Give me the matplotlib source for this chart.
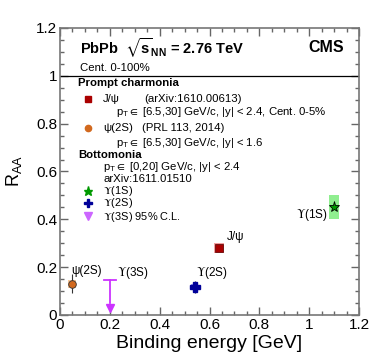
import matplotlib
matplotlib.use("Agg")
import matplotlib.pyplot as plt
from matplotlib.ticker import MultipleLocator, FormatStrFormatter
from matplotlib.patches import Rectangle

plt.rcParams['font.family'] = ['Liberation Sans', 'DejaVu Sans']
plt.rcParams['mathtext.fontset'] = 'custom'
plt.rcParams['mathtext.rm'] = 'Liberation Sans'
plt.rcParams['mathtext.it'] = 'Liberation Sans'
plt.rcParams['mathtext.bf'] = 'Liberation Sans:bold'
plt.rcParams['mathtext.fallback'] = 'stixsans'

# measured points (binding energy [GeV], R_AA)
states = ["ψ(2S)", "$\\Upsilon$(3S)", "$\\Upsilon$(2S)", "J/ψ", "$\\Upsilon$(1S)"]
binding = [0.05, 0.20, 0.54, 0.64, 1.10]
raa = [0.13, 0.145, 0.117, 0.28, 0.452]
stat_err = [0.04, 0.0, 0.025, 0.008, 0.01]
syst_err = [0.018, 0.0, 0.012, 0.02, 0.05]
box_width = [0.032, 0.0, 0.03, 0.04, 0.04]
ups3s_limit_low = 0.03

marker_colors = ["#d2691e", "#cc33ff", "#000099", "#aa0000", "#009900"]
box_colors = ["#f8c89a", "none", "#a0a0ff", "#f4a0a0", "#90ee90"]

W, H = 374, 359
fig = plt.figure(figsize=(W / 100, H / 100), dpi=100)
ax = fig.add_axes([60 / W, 1 - 315 / H, 299 / W, 287 / H])
ax.set_xlim(0, 1.2)
ax.set_ylim(0, 1.2)


def px(x, y):
    return x / W, 1 - y / H


# syst boxes
for i in range(len(states)):
    if box_width[i] > 0:
        ax.add_patch(Rectangle((binding[i] - box_width[i] / 2, raa[i] - syst_err[i]),
                               box_width[i], 2 * syst_err[i],
                               facecolor=box_colors[i], edgecolor="none", zorder=2))

# psi(2S)
ax.errorbar(binding[0], raa[0], yerr=stat_err[0], fmt="o", ms=5.5, color=marker_colors[0],
            mec="#333333", mew=0.6, ecolor="#333333", elinewidth=0.8, capsize=0, zorder=3)
# Upsilon(2S)
ax.errorbar(binding[2], raa[2], yerr=stat_err[2], fmt="P", ms=7, color=marker_colors[2],
            mec=marker_colors[2], ecolor="#333333", elinewidth=0.8, capsize=0, zorder=3)
# J/psi
ax.errorbar(binding[3], raa[3], yerr=stat_err[3], fmt="s", ms=5.5, color=marker_colors[3],
            mec="#550000", mew=0.5, ecolor="#333333", elinewidth=0.8, capsize=0, zorder=3)
# Upsilon(1S)
ax.errorbar(binding[4], raa[4], yerr=stat_err[4], fmt="*", ms=8, color=marker_colors[4],
            mec="#000000", mew=0.6, ecolor="#333333", elinewidth=0.8, capsize=0, zorder=3)
# Upsilon(3S) upper limit
ax.plot([binding[1], binding[1]], [raa[1], ups3s_limit_low + 0.02], color=marker_colors[1], lw=1.3, zorder=3)
ax.plot([binding[1] - 0.024, binding[1] + 0.024], [raa[1], raa[1]], color=marker_colors[1], lw=1.3, zorder=3)
ax.plot(binding[1], ups3s_limit_low, marker="v", ms=6, color=marker_colors[1], zorder=3)

ax.axhline(1.0, color="black", lw=0.9)

# point labels
lab = dict(fontsize=8.5, va="center", math_fontfamily="stix")
ax.text(binding[0] - 0.005, raa[0] + 0.052, states[0], ha="left", **lab)
ax.text(binding[1] + 0.03, raa[1] + 0.03, states[1], ha="left", **lab)
ax.text(binding[2] + 0.005, raa[2] + 0.06, states[2], ha="left", **lab)
ax.text(binding[3] + 0.03, raa[3] + 0.047, states[3], ha="left", **lab)
ax.text(binding[4] - 0.025, raa[4] - 0.035, states[4], ha="right", **lab)

ax.xaxis.set_major_locator(MultipleLocator(0.2))
ax.xaxis.set_minor_locator(MultipleLocator(0.05))
ax.yaxis.set_major_locator(MultipleLocator(0.2))
ax.yaxis.set_minor_locator(MultipleLocator(0.05))
ax.xaxis.set_major_formatter(FormatStrFormatter("%g"))
ax.yaxis.set_major_formatter(FormatStrFormatter("%g"))
ax.tick_params(which="both", direction="in", top=True, right=True, color="#666666")
ax.tick_params(which="major", length=6, width=1.0, labelsize=11, pad=2)
ax.tick_params(which="minor", length=3.2, width=1.0)
for s in ax.spines.values():
    s.set_color("#777777")
    s.set_linewidth(1.2)

ax.set_xlabel("Binding energy [GeV]", fontsize=14, labelpad=2)
ax.set_ylabel("R$_{\\mathrm{AA}}$", fontsize=13)
ax.yaxis.set_label_coords(-0.12, 0.50)

# header
fig.text(*px(80, 48), "PbPb  $\\sqrt{\\mathbf{s}}_{\\mathbf{NN}}$ = 2.76 TeV", fontsize=10.5,
         fontweight="bold", ha="left", va="center")
fig.text(*px(344, 48), "CMS", fontsize=11.5, fontweight="bold", ha="right", va="center")
fig.text(*px(80, 68), "Cent. 0-100%", fontsize=8.2, ha="left", va="center")

# legend block
fs = 8.2
fig.text(*px(78, 83), "Prompt charmonia", fontsize=fs, fontweight="bold", ha="left", va="center")
fig.text(*px(103, 99), "J/ψ", fontsize=fs, ha="left", va="center")
fig.text(*px(144, 99), "(arXiv:1610.00613)", fontsize=fs, ha="left", va="center")
fig.text(*px(116, 112), "p$_{\\mathrm{T}}\\in$ [6.5,30] GeV/c, |y| < 2.4, Cent. 0-5%", fontsize=fs,
         ha="left", va="center")
fig.text(*px(103, 128), "ψ(2S)", fontsize=fs, ha="left", va="center")
fig.text(*px(142, 128), "(PRL 113, 2014)", fontsize=fs, ha="left", va="center")
fig.text(*px(116, 143), "p$_{\\mathrm{T}}\\in$ [6.5,30] GeV/c, |y| < 1.6", fontsize=fs,
         ha="left", va="center")
fig.text(*px(78, 155), "Bottomonia", fontsize=fs, fontweight="bold", ha="left", va="center")
fig.text(*px(103, 167), "p$_{\\mathrm{T}}\\in$ [0,20] GeV/c, |y| < 2.4", fontsize=fs,
         ha="left", va="center")
fig.text(*px(103, 179), "arXiv:1611.01510", fontsize=fs, ha="left", va="center")
fig.text(*px(103, 190.5), states[4], fontsize=7.9, ha="left", va="center", math_fontfamily="stix")
fig.text(*px(103, 203.5), states[2], fontsize=7.9, ha="left", va="center", math_fontfamily="stix")
fig.text(*px(103, 216.5), states[1] + " 95% C.L.", fontsize=7.9, ha="left", va="center",
         math_fontfamily="stix")

legend_marks = [(99, "s", marker_colors[3], 4.5), (128, "o", marker_colors[0], 4.5),
                (191, "*", marker_colors[4], 6.5), (203, "P", marker_colors[2], 6),
                (216, "v", "#cc66ff", 6)]
for y, m, c, ms in legend_marks:
    fx, fy = px(88, y)
    fig.add_artist(plt.Line2D([fx], [fy], marker=m, color=c, ms=ms, mec=c,
                              transform=fig.transFigure))

fig.savefig("out.png", dpi=100)
